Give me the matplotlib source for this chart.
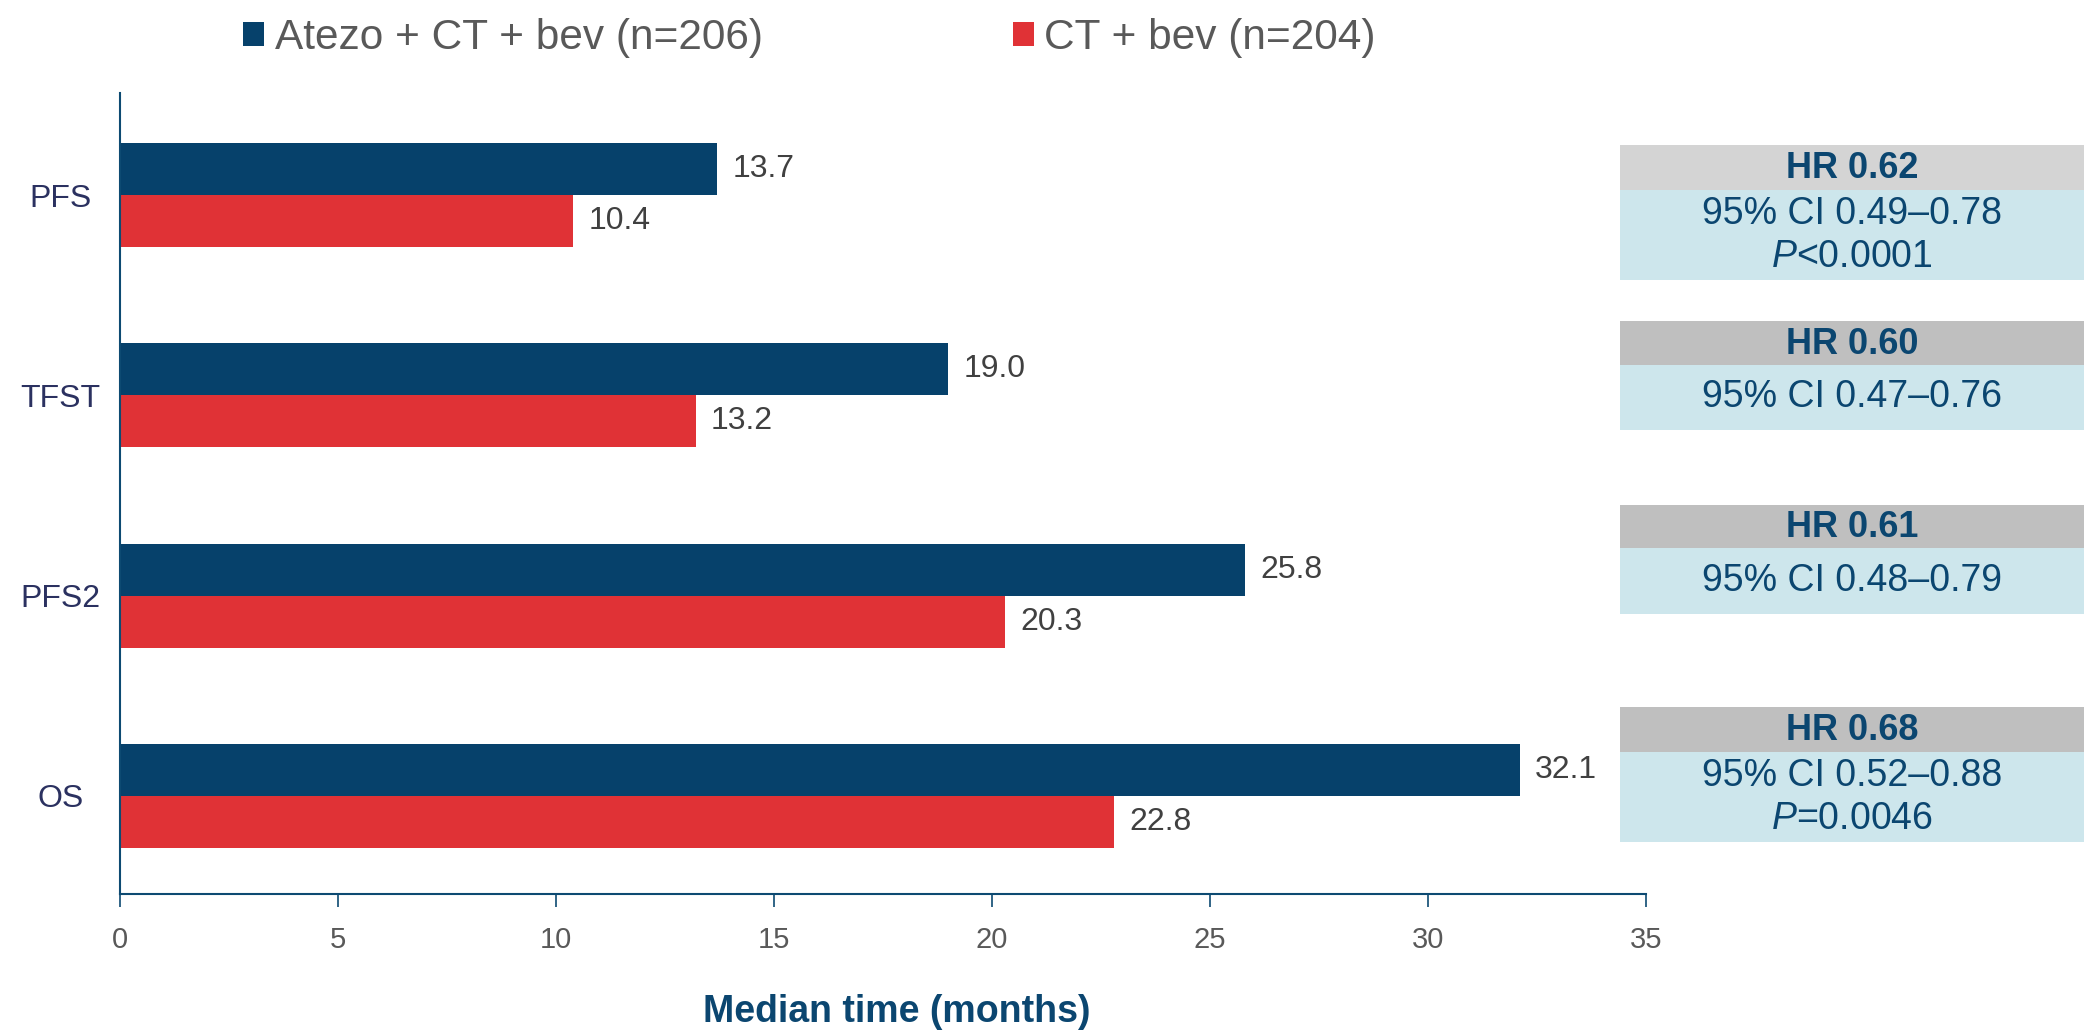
import matplotlib
matplotlib.use('Agg')
import matplotlib.pyplot as plt
from matplotlib.patches import Rectangle
import numpy as np

plt.rcParams['font.family'] = ['Liberation Sans', 'DejaVu Sans']
plt.rcParams['mathtext.fontset'] = 'custom'
plt.rcParams['mathtext.rm'] = 'Liberation Sans'
plt.rcParams['mathtext.it'] = 'Liberation Sans:italic'

# data
endpoints = ['PFS', 'TFST', 'PFS2', 'OS']
atezo = [13.7, 19.0, 25.8, 32.1]
ct_bev = [10.4, 13.2, 20.3, 22.8]
series_names = ['Atezo + CT + bev (n=206)', 'CT + bev (n=204)']
hr_labels = ['HR 0.62', 'HR 0.60', 'HR 0.61', 'HR 0.68']
ci_labels = ['95% CI 0.49\u20130.78', '95% CI 0.47\u20130.76',
             '95% CI 0.48\u20130.79', '95% CI 0.52\u20130.88']
p_labels = [r'$\mathit{P}$<0.0001', None, None, r'$\mathit{P}$=0.0046']

BLUE = '#06416b'
RED = '#e03236'
NAVY = '#0d4a72'
TXT_BLUE = '#0b4670'

W, H = 2084, 1035
fig = plt.figure(figsize=(W / 100, H / 100), dpi=100)


def fx(px):
    return px / W


def fy(py):
    return 1 - py / H


ax = fig.add_axes([fx(120), fy(894), fx(1646) - fx(120), fy(93) - fy(894)])

y = np.arange(len(endpoints))
h = 0.26
bars_a = ax.barh(y - h / 2, atezo, height=h, color=BLUE, label=series_names[0])
bars_b = ax.barh(y + h / 2, ct_bev, height=h, color=RED, label=series_names[1])

for bars in (bars_a, bars_b):
    for bar in bars:
        w = bar.get_width()
        ax.text(w + 0.35, bar.get_y() + bar.get_height() / 2, f'{w:.1f}',
                ha='left', va='center', fontsize=23, color='#404040')

ax.set_xlim(0, 35)
ax.set_ylim(3.49, -0.51)
ax.set_xticks(np.arange(0, 36, 5))
ax.tick_params(axis='x', length=9, width=1.2, color=NAVY, pad=14,
               labelsize=21, labelcolor='#595959')
ax.set_yticks(y)
ax.set_yticklabels(endpoints)
ax.tick_params(axis='y', length=0, pad=43, labelsize=23, labelcolor='#2b3160')
for lbl in ax.get_yticklabels():
    lbl.set_ha('center')

for side in ('top', 'right'):
    ax.spines[side].set_visible(False)
for side in ('left', 'bottom'):
    ax.spines[side].set_color(NAVY)
    ax.spines[side].set_linewidth(1.5)

ax.set_xlabel('Median time (months)', fontsize=27, fontweight='bold',
              color=TXT_BLUE)
ax.xaxis.set_label_coords(0.509, -0.147)
ax.xaxis.label.set_va('center')

# legend
fig.legend(handles=[bars_a, bars_b], loc='center left',
           bbox_to_anchor=(fx(243), fy(38)), ncol=2, frameon=False,
           fontsize=30.5, labelcolor='#595959', handlelength=0.5,
           handleheight=0.5, handletextpad=0.25, columnspacing=5.9,
           borderpad=0, borderaxespad=0)

# hazard ratio boxes (figure pixel layout)
box_x0, box_x1 = 1620, 2084
header_tops = [145, 321, 505, 707]
header_bottoms = [190, 365, 548, 752]
body_bottoms = [280, 430, 614, 842]
header_colors = ['#d4d4d4', '#bfbfbf', '#bfbfbf', '#bfbfbf']
cx = (box_x0 + box_x1) / 2

for i in range(len(endpoints)):
    t, m, b = header_tops[i], header_bottoms[i], body_bottoms[i]
    fig.add_artist(Rectangle((fx(box_x0), fy(m)), fx(box_x1 - box_x0), fy(t) - fy(m),
                             transform=fig.transFigure, color=header_colors[i], lw=0))
    fig.add_artist(Rectangle((fx(box_x0), fy(b)), fx(box_x1 - box_x0), fy(m) - fy(b),
                             transform=fig.transFigure, color='#cde6ec', lw=0))
    fig.text(fx(cx), fy((t + m) / 2 + 1), hr_labels[i], ha='center', va='center',
             fontsize=26, fontweight='bold', color=TXT_BLUE)
    if p_labels[i] is None:
        fig.text(fx(cx), fy((m + b) / 2), ci_labels[i], ha='center', va='center',
                 fontsize=27, color=TXT_BLUE)
    else:
        fig.text(fx(cx), fy(m + 24), ci_labels[i], ha='center', va='center',
                 fontsize=27, color=TXT_BLUE)
        fig.text(fx(cx), fy(m + 67), p_labels[i], ha='center', va='center',
                 fontsize=27, color=TXT_BLUE)

fig.savefig('out.png', dpi=100)
